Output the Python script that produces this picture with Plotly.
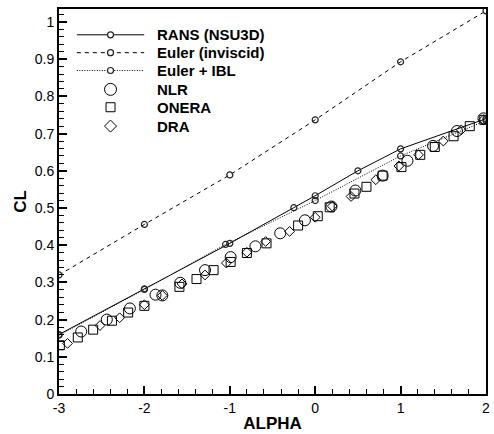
import plotly.graph_objects as go

# Computations
rans_alpha = [-3, -2, -1, -0.25, 0, 0.5, 1, 2]
rans_cl = [0.160, 0.283, 0.405, 0.501, 0.533, 0.600, 0.659, 0.740]
euler_alpha = [-3, -2, -1, 0, 1, 2]
euler_cl = [0.320, 0.456, 0.589, 0.737, 0.893, 1.030]
ibl_alpha = [-3, -2, -1.05, 0, 1, 2]
ibl_cl = [0.158, 0.281, 0.402, 0.520, 0.640, 0.735]

# Experiments
nlr_alpha = [-2.74, -2.44, -2.17, -1.87, -1.79, -1.58, -1.29, -0.99, -0.70, -0.41,
             -0.12, 0.19, 0.47, 0.79, 1.08, 1.38, 1.66, 1.97]
nlr_cl = [0.168, 0.200, 0.230, 0.267, 0.265, 0.299, 0.333, 0.368, 0.397, 0.432,
          0.467, 0.504, 0.547, 0.587, 0.627, 0.667, 0.707, 0.741]
onera_alpha = [-2.99, -2.78, -2.60, -2.38, -2.19, -2.00, -1.59, -1.39, -1.19, -0.99,
               -0.80, -0.57, -0.20, 0.03, 0.17, 0.46, 0.60, 0.79, 1.01, 1.23,
               1.40, 1.62, 1.81, 1.98]
onera_cl = [0.131, 0.152, 0.173, 0.197, 0.219, 0.237, 0.288, 0.309, 0.333, 0.355,
            0.379, 0.405, 0.453, 0.478, 0.502, 0.539, 0.557, 0.587, 0.610, 0.643,
            0.664, 0.693, 0.720, 0.737]
dra_alpha = [-2.90, -2.52, -2.29, -2.00, -1.79, -1.56, -1.29, -1.04, -0.80, -0.58,
             -0.30, 0.00, 0.20, 0.42, 0.71, 0.98, 1.21, 1.50, 1.71, 1.97]
dra_cl = [0.136, 0.184, 0.205, 0.240, 0.265, 0.296, 0.320, 0.352, 0.381, 0.410,
          0.437, 0.475, 0.505, 0.531, 0.576, 0.613, 0.643, 0.680, 0.710, 0.737]

series_names = ["RANS (NSU3D)", "Euler (inviscid)", "Euler + IBL", "NLR", "ONERA", "DRA"]

x_tickvals = [-3, -2, -1, 0, 1, 2]
x_ticktext = ["-3", "-2", "-1", "0", "1", "2"]
y_tickvals = [0, 0.1, 0.2, 0.3, 0.4, 0.5, 0.6, 0.7, 0.8, 0.9, 1.0]
y_ticktext = ["0", "0.1", "0.2", "0.3", "0.4", "0.5", "0.6", "0.7", "0.8", "0.9", "1"]

FONT = "Liberation Sans, Arial, sans-serif"
W, H = 494, 434
ML, MR, MT, MB = 59, 4, 9, 37
PW, PH = W - ML - MR, H - MT - MB

small = dict(symbol="circle-open", size=6, color="#222222", line=dict(width=1.2, color="#222222"))

fig = go.Figure()
fig.add_trace(go.Scatter(x=rans_alpha, y=rans_cl, mode="lines+markers", name=series_names[0],
                         line=dict(color="black", width=1), marker=small))
fig.add_trace(go.Scatter(x=euler_alpha, y=euler_cl, mode="lines+markers", name=series_names[1],
                         line=dict(color="black", width=1, dash="4px,4px"), marker=small))
fig.add_trace(go.Scatter(x=ibl_alpha, y=ibl_cl, mode="lines+markers", name=series_names[2],
                         line=dict(color="black", width=1, dash="1px,1.5px"), marker=small))
fig.add_trace(go.Scatter(x=nlr_alpha, y=nlr_cl, mode="markers", name=series_names[3],
                         marker=dict(symbol="circle-open", size=11, color="black", line=dict(width=1))))
fig.add_trace(go.Scatter(x=onera_alpha, y=onera_cl, mode="markers", name=series_names[4],
                         marker=dict(symbol="square-open", size=9, color="black", line=dict(width=1))))
fig.add_trace(go.Scatter(x=dra_alpha, y=dra_cl, mode="markers", name=series_names[5],
                         marker=dict(symbol="diamond-open", size=7.5, color="black", line=dict(width=1))))

# ---- hand-drawn legend (layout decoration) ----
def px(xp):
    return (xp - ML) / PW


def py(yp):
    return (H - MB - yp) / PH


rows = [35, 53, 71, 90, 108, 127]
line_x0, line_x1, sym_x, text_x = 77, 145, 111, 156
dashes = ["solid", "4px,4px", "1px,1.5px"]
shapes = []
annotations = []
for i, name in enumerate(series_names):
    yy = py(rows[i])
    if i < 3:
        shapes.append(dict(type="line", xref="paper", yref="paper", x0=px(line_x0), x1=px(line_x1),
                           y0=yy, y1=yy, line=dict(color="black", width=1, dash=dashes[i])))
        shapes.append(dict(type="circle", xref="paper", yref="paper", xsizemode="pixel", ysizemode="pixel",
                           xanchor=px(sym_x), yanchor=yy, x0=-3, x1=3, y0=-3, y1=3,
                           fillcolor="white", line=dict(color="#222222", width=1.2)))
    elif name == "NLR":
        shapes.append(dict(type="circle", xref="paper", yref="paper", xsizemode="pixel", ysizemode="pixel",
                           xanchor=px(sym_x), yanchor=yy, x0=-6, x1=6, y0=-6, y1=6,
                           line=dict(color="black", width=1)))
    elif name == "ONERA":
        shapes.append(dict(type="rect", xref="paper", yref="paper", xsizemode="pixel", ysizemode="pixel",
                           xanchor=px(sym_x), yanchor=yy, x0=-4.5, x1=4.5, y0=-4.5, y1=4.5,
                           line=dict(color="black", width=1)))
    else:
        shapes.append(dict(type="path", xref="paper", yref="paper", xsizemode="pixel", ysizemode="pixel",
                           xanchor=px(sym_x), yanchor=yy, path="M -6 0 L 0 6 L 6 0 L 0 -6 Z",
                           line=dict(color="black", width=1)))
    annotations.append(dict(xref="paper", yref="paper", x=px(text_x), y=yy, xanchor="left", yanchor="middle",
                            text="<b>" + name + "</b>", showarrow=False,
                            font=dict(family=FONT, size=15, color="black")))

axis_common = dict(showline=True, linecolor="black", linewidth=2, mirror=True,
                   ticks="inside", tickcolor="black", tickwidth=2, ticklen=8,
                   showgrid=False, zeroline=False,
                   tickfont=dict(family=FONT, size=14, color="black"))

fig.update_layout(
    width=W, height=H,
    margin=dict(l=ML, r=MR, t=MT, b=MB),
    paper_bgcolor="white", plot_bgcolor="white",
    font=dict(family=FONT, color="black"),
    showlegend=False,
    shapes=shapes,
    annotations=annotations,
    xaxis=dict(axis_common, range=[-3, 2], tickvals=x_tickvals, ticktext=x_ticktext,
               minor=dict(ticks="inside", dtick=0.2, ticklen=5, tickwidth=1, tickcolor="black"),
               title=dict(text="<b>ALPHA</b>", font=dict(family=FONT, size=17, color="black"), standoff=2)),
    yaxis=dict(axis_common, range=[0, 1.035], tickvals=y_tickvals, ticktext=y_ticktext,
               minor=dict(ticks="inside", dtick=0.02, ticklen=5, tickwidth=1, tickcolor="black"),
               title=dict(text="<b>CL</b>", font=dict(family=FONT, size=17, color="black"), standoff=4)),
)

fig.write_html("out.html")
